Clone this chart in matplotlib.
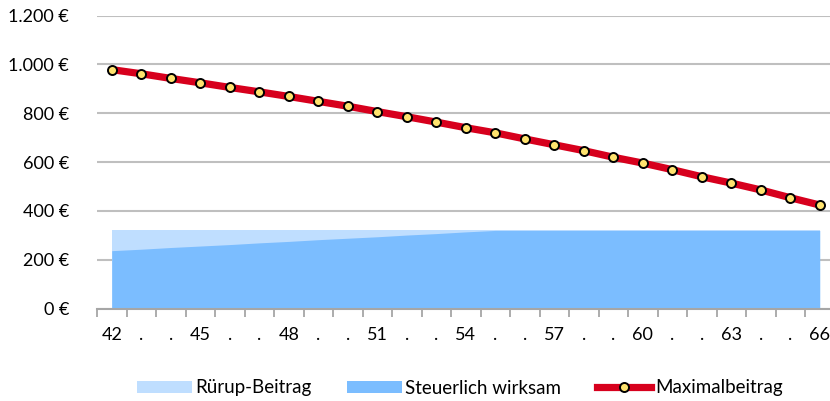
import numpy as np
import matplotlib
matplotlib.use('Agg')
import matplotlib.pyplot as plt
from matplotlib.ticker import FuncFormatter, FixedLocator
from matplotlib.patches import Patch
from matplotlib.lines import Line2D

# ages 42..66, every third one labelled
ages = list(range(42, 67))
age_labels = ['42', '.', '.', '45', '.', '.', '48', '.', '.', '51', '.', '.', '54',
              '.', '.', '57', '.', '.', '60', '.', '.', '63', '.', '.', '66']

ruerup = [320] * 25
steuerlich = [237, 243, 250, 256, 262, 269, 275, 282, 288, 294, 301, 307, 314,
              320, 320, 320, 320, 320, 320, 320, 320, 320, 320, 320, 320]
maximal = [979, 962, 943, 925, 906, 888, 869, 849, 829, 807, 786, 764, 741,
           720, 695, 671, 647, 620, 596, 569, 540, 514, 486, 454, 424]

plt.rcParams['font.family'] = ['Lato', 'DejaVu Sans']

W, H = 830, 401
fig = plt.figure(figsize=(W / 100, H / 100), dpi=100)
ax = fig.add_axes([97 / W, 1 - 308.5 / H, 737.5 / W, 292.8 / H])

x = np.arange(len(ages))
ax.fill_between(x, 0, ruerup, color='#bfdeff', lw=0, zorder=2)
ax.fill_between(x, 0, steuerlich, color='#7bbdff', lw=0, zorder=3)
ax.plot(x, maximal, color='#d7001d', lw=5.2, solid_capstyle='round', zorder=4,
        marker='o', ms=6.5, mfc='#ffe36e', mec='black', mew=1.4)

ax.set_xlim(-0.5, len(ages) - 0.5)
ax.set_ylim(0, 1200)
ax.yaxis.set_major_locator(FixedLocator(range(0, 1201, 200)))
ax.yaxis.set_major_formatter(FuncFormatter(lambda v, p: f'{v:,.0f} €'.replace(',', '.')))
ax.grid(axis='y', color='#bfbfbf', lw=1.5, zorder=0)
ax.set_axisbelow(True)

ax.set_xticks(x)
ax.set_xticklabels(age_labels)
ax.set_xticks(np.arange(-0.5, len(ages), 1), minor=True)
ax.tick_params(axis='x', which='major', length=0, pad=13, labelsize=13)
ax.tick_params(axis='x', which='minor', length=6, width=1.3, color='#a6a6a6')
ax.tick_params(axis='y', length=0, pad=20, labelsize=13)

for s in ['top', 'right', 'left']:
    ax.spines[s].set_visible(False)
ax.spines['bottom'].set_color('#a6a6a6')
ax.spines['bottom'].set_linewidth(1.5)
ax.spines['bottom'].set_zorder(5)

handles = [
    Patch(color='#bfdeff', lw=0),
    Patch(color='#7bbdff', lw=0),
    Line2D([], [], color='#d7001d', lw=5.2, marker='o', ms=6.5,
           mfc='#ffe36e', mec='black', mew=1.4),
]
labels = ['Rürup-Beitrag', 'Steuerlich wirksam', 'Maximalbeitrag']
fig.legend(handles, labels, loc='center', bbox_to_anchor=(460 / W, 1 - 388 / H),
           ncol=3, frameon=False, fontsize=13.5, handlelength=2.9,
           handleheight=0.6, handletextpad=0.2, columnspacing=1.9,
           borderaxespad=0, borderpad=0)

fig.savefig('out.png', dpi=100)
